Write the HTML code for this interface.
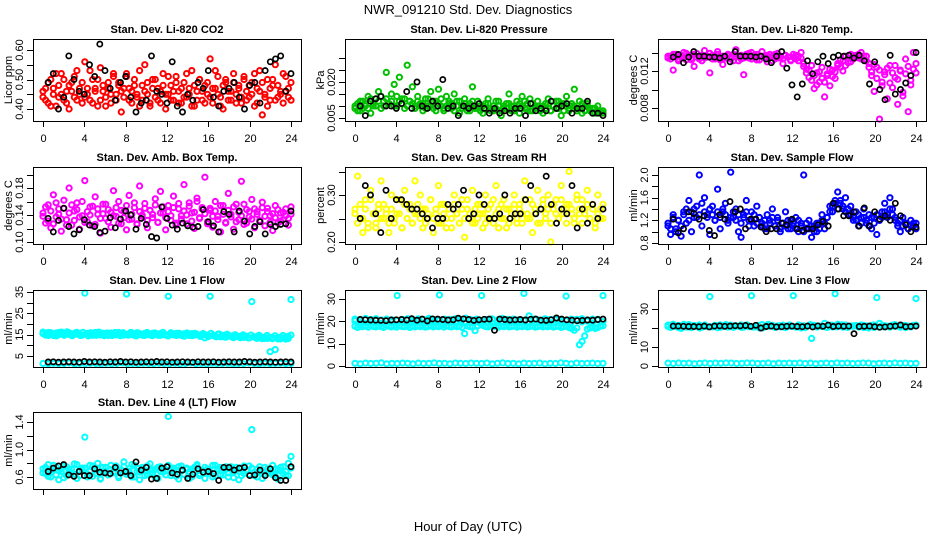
<!DOCTYPE html>
<html><head><meta charset="utf-8"><style>
html,body{margin:0;padding:0;background:#fff;}
svg{display:block;font-family:"Liberation Sans",sans-serif;}
</style></head><body>
<svg id="chart" width="936" height="540" viewBox="0 0 936 540" xmlns="http://www.w3.org/2000/svg">
<text x="468" y="14" text-anchor="middle" font-size="13">NWR_091210  Std. Dev. Diagnostics</text>
<text x="468" y="531" text-anchor="middle" font-size="13">Hour of Day (UTC)</text>
</svg>
<script>
const xTicks=[0,4,8,12,16,20,24];
const co2Red=[0.44,0.47,0.42,0.50,0.45,0.41,0.48,0.52,0.43,0.46,0.40,0.49,0.44,0.53,0.47,0.42,0.56,0.45,0.43,0.50,0.47,0.41,0.54,0.46,0.44,0.49,0.42,0.51,0.45,0.48,0.39,0.47,0.52,0.43,0.46,0.50,0.44,0.41,0.48,0.55,0.45,0.42,0.47,0.50,0.43,0.46,0.52,0.40,0.45,0.48,0.43,0.51,0.46,0.42,0.49,0.44,0.47,0.53,0.41,0.46,0.50,0.43,0.48,0.45,0.57,0.42,0.47,0.51,0.44,0.40,0.49,0.46,0.43,0.52,0.45,0.48,0.42,0.50,0.46,0.44,0.49,0.41,0.47,0.53,0.38,0.45,0.50,0.43,0.48,0.55,0.44,0.46,0.42,0.51,0.47,0.43];
const co2RedB=[0.46,0.43,0.49,0.41,0.47,0.52,0.44,0.45,0.50,0.42,0.48,0.46,0.51,0.43,0.45,0.49,0.44,0.47,0.53,0.42,0.46,0.50,0.43,0.48,0.41,0.47,0.45,0.52,0.43,0.49,0.46,0.44,0.51,0.47,0.42,0.48,0.45,0.53,0.43,0.46,0.49,0.41,0.50,0.44,0.47,0.42,0.48,0.45,0.51,0.43,0.46,0.49,0.42,0.47,0.44,0.52,0.45,0.41,0.48,0.43,0.50,0.46,0.42,0.49,0.44,0.47,0.53,0.45,0.41,0.48,0.50,0.43,0.46,0.49,0.42,0.47,0.44,0.51,0.43,0.48,0.45,0.52,0.42,0.46,0.49,0.44,0.41,0.47,0.50,0.43,0.48,0.45,0.52,0.46,0.44,0.49];
const co2Black=[0.49,0.52,0.40,0.44,0.58,0.50,0.46,0.45,0.55,0.51,0.62,0.53,0.47,0.43,0.49,0.51,0.44,0.39,0.42,0.43,0.58,0.46,0.45,0.42,0.56,0.41,0.39,0.45,0.43,0.49,0.47,0.53,0.44,0.41,0.46,0.47,0.49,0.44,0.40,0.48,0.49,0.42,0.53,0.56,0.57,0.58,0.46,0.52];
const presGreen=[0.010,0.008,0.012,0.009,0.011,0.014,0.007,0.010,0.013,0.016,0.009,0.012,0.024,0.011,0.015,0.019,0.010,0.022,0.013,0.009,0.027,0.012,0.018,0.010,0.014,0.011,0.008,0.013,0.010,0.016,0.009,0.012,0.017,0.010,0.008,0.014,0.011,0.009,0.015,0.012,0.007,0.010,0.013,0.008,0.011,0.018,0.009,0.012,0.010,0.007,0.011,0.013,0.009,0.008,0.012,0.010,0.006,0.009,0.011,0.015,0.008,0.010,0.012,0.007,0.014,0.009,0.011,0.013,0.008,0.010,0.012,0.009,0.007,0.011,0.013,0.008,0.010,0.009,0.012,0.006,0.011,0.014,0.008,0.010,0.017,0.009,0.012,0.007,0.010,0.011,0.008,0.009,0.007,0.010,0.008,0.007];
const presGreenB=[0.009,0.011,0.008,0.012,0.010,0.009,0.013,0.011,0.010,0.012,0.014,0.010,0.013,0.011,0.012,0.010,0.014,0.012,0.011,0.013,0.010,0.012,0.011,0.009,0.012,0.010,0.011,0.009,0.013,0.010,0.012,0.008,0.011,0.013,0.009,0.010,0.012,0.011,0.008,0.010,0.012,0.009,0.011,0.010,0.008,0.012,0.010,0.009,0.008,0.010,0.009,0.011,0.008,0.010,0.009,0.012,0.008,0.010,0.009,0.011,0.010,0.008,0.009,0.011,0.010,0.012,0.009,0.008,0.011,0.009,0.010,0.008,0.010,0.009,0.011,0.008,0.010,0.012,0.009,0.011,0.008,0.010,0.009,0.011,0.010,0.008,0.009,0.011,0.008,0.010,0.009,0.007,0.009,0.008,0.007,0.008];
const presBlack=[0.010,0.006,0.012,0.013,0.014,0.010,0.010,0.009,0.011,0.016,0.009,0.020,0.010,0.009,0.012,0.010,0.021,0.009,0.010,0.006,0.010,0.009,0.010,0.011,0.009,0.007,0.009,0.007,0.008,0.007,0.009,0.009,0.006,0.011,0.008,0.009,0.008,0.012,0.009,0.010,0.011,0.007,0.009,0.009,0.012,0.007,0.007,0.006];
const tempMag=[0.0134,0.0136,0.0121,0.0138,0.0133,0.0135,0.0140,0.0132,0.0137,0.0134,0.0125,0.0139,0.0136,0.0131,0.0142,0.0135,0.0118,0.0137,0.0133,0.0141,0.0136,0.0127,0.0134,0.0138,0.0135,0.0131,0.0143,0.0136,0.0133,0.0116,0.0138,0.0134,0.0140,0.0137,0.0132,0.0136,0.0141,0.0135,0.0130,0.0138,0.0136,0.0133,0.0139,0.0134,0.0128,0.0137,0.0135,0.0131,0.0138,0.0133,0.0136,0.0140,0.0128,0.0122,0.0113,0.0126,0.0101,0.0118,0.0108,0.0124,0.0092,0.0115,0.0104,0.0121,0.0112,0.0126,0.0132,0.0120,0.0136,0.0129,0.0138,0.0133,0.0137,0.0134,0.0140,0.0132,0.0136,0.0128,0.0115,0.0098,0.0124,0.0068,0.0108,0.0119,0.0090,0.0126,0.0102,0.0113,0.0084,0.0121,0.0097,0.0133,0.0076,0.0110,0.0140,0.0118];
const tempMagB=[0.0136,0.0133,0.0138,0.0135,0.0131,0.0137,0.0134,0.0139,0.0136,0.0132,0.0138,0.0135,0.0133,0.0137,0.0134,0.0136,0.0139,0.0133,0.0135,0.0138,0.0132,0.0136,0.0134,0.0137,0.0133,0.0138,0.0135,0.0131,0.0137,0.0134,0.0136,0.0139,0.0133,0.0135,0.0138,0.0132,0.0136,0.0134,0.0137,0.0135,0.0131,0.0138,0.0134,0.0136,0.0133,0.0137,0.0135,0.0132,0.0135,0.0137,0.0131,0.0134,0.0125,0.0118,0.0121,0.0110,0.0115,0.0105,0.0119,0.0112,0.0108,0.0117,0.0122,0.0114,0.0119,0.0128,0.0124,0.0131,0.0126,0.0134,0.0130,0.0137,0.0135,0.0138,0.0133,0.0136,0.0131,0.0124,0.0119,0.0127,0.0112,0.0121,0.0104,0.0116,0.0123,0.0107,0.0118,0.0126,0.0111,0.0120,0.0093,0.0117,0.0125,0.0105,0.0122,0.0128];
const tempBlack=[0.0135,0.0138,0.0129,0.0135,0.0141,0.0136,0.0136,0.0135,0.0135,0.0134,0.0136,0.0130,0.0141,0.0136,0.0136,0.0136,0.0135,0.0136,0.0133,0.0129,0.0136,0.0141,0.0123,0.0105,0.0092,0.0106,0.0131,0.0117,0.0130,0.0136,0.0128,0.0135,0.0137,0.0136,0.0137,0.0134,0.0137,0.0131,0.0106,0.0130,0.0100,0.0089,0.0137,0.0095,0.0100,0.0107,0.0115,0.0140];
const ambMag=[0.143,0.128,0.155,0.121,0.170,0.137,0.149,0.116,0.162,0.133,0.180,0.125,0.146,0.158,0.119,0.139,0.191,0.130,0.152,0.124,0.167,0.141,0.113,0.156,0.135,0.148,0.122,0.176,0.138,0.160,0.127,0.145,0.118,0.169,0.134,0.151,0.126,0.183,0.140,0.157,0.121,0.147,0.136,0.164,0.129,0.175,0.143,0.118,0.154,0.132,0.168,0.125,0.149,0.139,0.185,0.127,0.158,0.143,0.120,0.165,0.136,0.151,0.196,0.130,0.147,0.122,0.160,0.138,0.115,0.154,0.128,0.172,0.141,0.119,0.156,0.133,0.190,0.126,0.148,0.137,0.163,0.121,0.145,0.131,0.159,0.124,0.150,0.139,0.117,0.154,0.128,0.143,0.133,0.149,0.125,0.152];
const ambMagB=[0.138,0.152,0.131,0.146,0.127,0.158,0.141,0.134,0.150,0.125,0.143,0.155,0.132,0.148,0.137,0.160,0.129,0.145,0.140,0.153,0.126,0.149,0.135,0.142,0.156,0.130,0.144,0.139,0.151,0.128,0.147,0.136,0.154,0.133,0.141,0.158,0.127,0.145,0.138,0.150,0.132,0.147,0.141,0.155,0.129,0.143,0.152,0.136,0.145,0.139,0.151,0.128,0.157,0.134,0.146,0.140,0.153,0.131,0.144,0.160,0.135,0.149,0.142,0.127,0.150,0.138,0.146,0.133,0.154,0.141,0.129,0.147,0.137,0.152,0.130,0.144,0.139,0.156,0.128,0.145,0.134,0.149,0.141,0.132,0.151,0.138,0.145,0.129,0.142,0.136,0.148,0.131,0.144,0.139,0.135,0.141];
const ambBlack=[0.135,0.115,0.132,0.150,0.123,0.112,0.118,0.133,0.125,0.123,0.114,0.116,0.136,0.121,0.134,0.146,0.140,0.119,0.135,0.126,0.108,0.106,0.152,0.135,0.125,0.119,0.128,0.124,0.122,0.123,0.148,0.130,0.124,0.115,0.145,0.141,0.115,0.146,0.131,0.112,0.123,0.130,0.112,0.126,0.123,0.126,0.127,0.146];
const rhYellow=[0.27,0.34,0.25,0.22,0.29,0.24,0.31,0.26,0.23,0.28,0.33,0.25,0.27,0.22,0.30,0.24,0.26,0.29,0.23,0.31,0.25,0.28,0.24,0.33,0.26,0.30,0.23,0.27,0.25,0.29,0.22,0.26,0.32,0.24,0.28,0.25,0.27,0.23,0.30,0.26,0.24,0.29,0.21,0.27,0.25,0.31,0.24,0.28,0.26,0.23,0.30,0.25,0.28,0.24,0.32,0.27,0.25,0.29,0.23,0.27,0.26,0.30,0.24,0.28,0.26,0.33,0.25,0.29,0.22,0.27,0.31,0.24,0.28,0.26,0.30,0.20,0.27,0.29,0.25,0.32,0.26,0.28,0.35,0.27,0.24,0.30,0.26,0.29,0.27,0.31,0.25,0.28,0.23,0.30,0.27,0.25];
const rhYellowB=[0.26,0.24,0.28,0.25,0.27,0.23,0.29,0.26,0.24,0.27,0.25,0.28,0.26,0.24,0.27,0.25,0.29,0.26,0.23,0.28,0.25,0.27,0.24,0.26,0.28,0.25,0.27,0.24,0.26,0.29,0.25,0.27,0.24,0.28,0.26,0.23,0.27,0.25,0.28,0.26,0.24,0.27,0.25,0.29,0.26,0.24,0.27,0.25,0.28,0.26,0.24,0.27,0.25,0.29,0.26,0.23,0.28,0.25,0.27,0.24,0.26,0.28,0.25,0.27,0.24,0.29,0.26,0.25,0.28,0.26,0.24,0.27,0.29,0.25,0.27,0.24,0.28,0.26,0.25,0.29,0.27,0.24,0.28,0.26,0.25,0.29,0.27,0.24,0.26,0.28,0.25,0.27,0.24,0.26,0.25,0.28];
const rhBlack=[0.25,0.32,0.30,0.26,0.22,0.31,0.25,0.29,0.29,0.28,0.27,0.27,0.26,0.25,0.23,0.25,0.25,0.28,0.27,0.28,0.31,0.25,0.26,0.30,0.28,0.25,0.25,0.26,0.30,0.25,0.26,0.26,0.29,0.32,0.26,0.27,0.34,0.28,0.24,0.27,0.26,0.32,0.23,0.27,0.24,0.28,0.25,0.27];
const flowBlue=[1.10,0.95,1.30,1.05,1.20,0.92,1.35,1.15,1.55,1.00,1.40,1.25,2.00,1.10,1.60,1.30,0.95,1.45,1.20,1.75,1.05,1.35,1.50,1.15,2.05,1.25,1.40,1.00,0.90,1.30,1.55,1.20,1.35,1.10,1.45,1.25,1.15,1.05,1.30,1.20,1.40,1.10,1.25,1.00,1.15,1.35,1.05,1.20,1.10,1.25,1.00,1.15,2.00,1.05,1.20,0.90,1.10,1.00,1.15,1.30,1.05,1.25,1.45,1.35,1.55,1.70,1.50,1.40,1.60,1.30,1.45,1.20,1.35,1.10,1.25,1.40,1.15,1.30,1.05,1.25,0.95,1.20,1.35,1.50,1.30,1.60,1.40,1.20,1.10,1.00,1.25,1.15,1.05,1.20,1.10,1.15];
const flowBlueB=[1.15,1.05,1.25,1.00,1.20,1.10,1.30,1.40,1.20,1.35,1.25,1.45,1.30,1.50,1.35,1.25,1.40,1.30,1.20,1.35,1.25,1.40,1.30,1.20,1.25,1.35,1.20,1.30,1.15,1.25,1.35,1.10,1.20,1.30,1.15,1.25,1.10,1.20,1.05,1.15,1.25,1.10,1.20,1.05,1.15,1.10,1.20,1.05,1.15,1.05,1.20,1.10,1.00,1.15,1.05,1.10,1.00,1.15,1.05,1.20,1.15,1.25,1.35,1.45,1.50,1.40,1.55,1.45,1.35,1.40,1.30,1.25,1.20,1.30,1.15,1.25,1.20,1.10,1.25,1.15,1.30,1.20,1.25,1.35,1.25,1.40,1.30,1.25,1.15,1.20,1.10,1.15,1.05,1.10,1.15,1.05];
const flowBlack=[1.22,0.98,1.05,1.35,1.32,1.22,1.28,1.02,0.93,1.30,1.22,1.53,1.35,1.40,1.05,1.22,1.22,1.08,1.00,1.05,1.05,1.15,1.12,1.22,1.05,1.02,1.05,1.05,1.12,1.18,1.10,1.50,1.40,1.28,1.28,1.35,1.10,1.42,1.10,1.35,1.22,1.28,1.20,1.50,1.28,1.12,1.00,1.08];
const line1Cyan=[15.5,14.8,16.0,15.2,14.6,15.8,15.0,16.2,14.9,15.4,15.9,14.7,15.3,16.1,15.0,14.8,34.5,15.6,15.1,14.7,16.0,15.3,14.9,15.7,15.2,14.6,15.8,15.1,14.9,16.0,15.4,14.8,34.0,15.5,15.0,14.7,15.9,15.2,14.8,15.6,15.1,14.9,15.7,15.3,14.7,15.5,15.0,14.8,33.0,15.3,14.9,15.6,15.0,14.7,15.4,15.1,14.6,15.5,14.9,15.2,14.5,15.0,13.5,14.8,33.0,14.6,14.2,15.2,14.0,14.7,13.8,14.4,14.1,13.6,14.5,13.9,14.2,13.7,14.3,13.5,30.5,14.0,13.3,13.9,13.1,13.7,13.2,7.0,13.6,8.0,13.0,13.8,13.4,12.9,14.2,31.5];
const line1CyanB=[16.2,15.3,14.6,15.9,15.1,14.4,16.0,15.4,14.7,16.3,15.0,14.5,15.8,15.2,14.6,16.1,15.3,14.4,15.9,15.1,14.7,16.2,15.0,14.5,15.8,15.4,14.6,16.0,15.2,14.5,15.9,15.1,14.8,16.1,15.3,14.4,15.7,15.0,14.6,16.0,15.2,14.5,15.8,15.3,14.7,16.1,15.0,14.4,15.9,15.2,14.6,15.7,15.0,14.3,15.8,15.1,14.5,15.6,14.9,14.2,15.5,14.8,14.1,15.6,14.7,14.0,15.3,14.6,13.9,15.2,14.5,13.8,15.0,14.3,13.6,14.9,14.2,13.5,14.8,14.0,13.4,14.7,13.9,13.2,14.6,13.8,13.1,14.5,13.7,13.0,14.6,13.9,13.2,14.8];
const line1Low=[1.5,1.3,1.6,1.4,1.5,1.7,1.3,1.5,1.4,1.6,1.5,1.3,1.6,1.4,1.5,1.7,1.4,1.5,1.3,1.6,1.5,1.4,1.6,1.5,1.4,1.6,1.3,1.5,1.7,1.4,1.5,1.3,1.6,1.4,1.5,1.6,1.3,1.5,1.4,1.7,1.5,1.3,1.6,1.4,1.5,1.6,1.4,1.5];
const line1Black=[2.2,2.3,2.1,2.2,2.3,2.2,2.1,2.4,2.2,2.3,2.2,2.1,2.3,2.2,2.4,2.2,2.3,2.1,2.2,2.3,2.2,2.4,2.2,2.3,2.1,2.2,2.3,2.2,2.1,2.3,2.2,2.2,2.3,2.1,2.2,2.3,2.2,2.2,2.4,2.3,2.1,2.2,2.3,2.2,2.1,2.2,2.3,2.2];
const line2CyanA=[21.0,20.5,21.3,20.8,21.2,20.6,21.0,20.7,31.5,20.9,21.2,20.6,21.1,20.8,21.3,20.7,31.8,21.0,20.6,21.2,20.9,21.4,20.7,21.0,31.5,20.8,21.1,20.6,21.3,20.9,21.0,20.7,32.5,22.5,21.0,20.6,21.2,20.8,21.1,20.7,31.3,21.0,20.8,21.2,20.6,21.0,20.9,31.5];
const line2CyanB=[17.8,17.3,18.2,17.6,17.9,17.4,18.1,17.7,17.5,18.0,17.6,17.3,18.2,17.8,17.5,17.9,17.4,18.1,17.7,17.6,18.0,17.3,17.8,17.5,17.9,17.6,18.1,17.4,17.7,18.0,17.5,17.8,17.6,18.2,17.4,17.9,17.7,17.5,18.0,17.6,17.8,17.3,14.5,17.9,17.6,17.4,15.8,18.0,19.0,18.2,17.7,17.5,18.0,17.6,17.9,17.4,17.8,17.6,18.1,17.5,17.7,17.9,17.4,17.8,17.6,18.0,17.5,17.7,17.9,17.4,17.6,18.0,17.5,17.8,17.6,17.9,17.4,17.7,17.8,17.3,17.6,17.9,17.2,16.8,16.0,17.0,9.5,11.0,13.5,16.5,17.0,17.5,16.8,17.2,17.8,18.0];
const line2CyanC=[20.2,19.4,20.8,19.6,20.4,19.1,20.7,19.8,20.3,19.5,20.9,19.7,20.1,19.3,20.6,19.9,20.4,19.2,20.8,19.6,20.2,19.4,20.7,19.8,20.3,19.5,20.9,19.7,20.1,19.3,20.6,19.9,20.4,19.2,20.8,19.6,20.2,19.4,20.7,19.8,20.3,19.5,20.9,19.7,20.1,19.3,20.6,19.9];
const line2Low=[1.2,1.0,1.3,1.1,1.2,1.4,1.0,1.2,1.1,1.3,1.2,1.0,1.3,1.1,1.2,1.4,1.1,1.2,1.0,1.3,1.2,1.1,1.3,1.2,1.1,1.3,1.0,1.2,1.4,1.1,1.2,1.0,1.3,1.1,1.2,1.3,1.0,1.2,1.1,1.4,1.2,1.0,1.3,1.1,1.2,1.3,1.1,1.2];
const line2Black=[20.8,20.7,20.6,20.5,20.4,20.3,20.6,20.7,20.8,20.6,21.2,20.5,21.0,20.2,21.1,21.0,20.8,20.6,20.7,21.4,21.1,20.8,20.4,20.7,20.9,21.0,16.0,21.0,20.8,20.6,20.7,20.8,20.6,20.9,21.0,20.5,20.4,20.7,21.5,21.0,20.7,20.5,20.3,20.4,20.6,20.5,20.8,21.0];
const line3Cyan=[21.5,20.3,22.0,20.8,21.4,19.8,21.1,20.5,21.8,20.2,21.3,20.9,21.6,20.4,21.0,20.7,36.5,20.6,21.4,20.1,21.7,20.8,21.2,20.5,21.5,20.3,21.0,20.9,21.6,20.4,21.2,20.7,37.0,20.5,21.3,20.0,21.8,20.6,21.1,20.9,21.4,20.3,21.0,20.6,21.5,20.2,21.2,20.8,37.0,20.4,21.6,20.0,21.1,20.7,21.3,14.5,21.4,20.5,21.0,20.8,22.5,20.3,21.2,20.6,38.0,22.0,21.1,20.4,21.5,20.6,21.0,20.9,21.3,20.5,21.6,20.2,21.1,20.7,21.4,20.3,36.0,22.5,21.2,20.6,21.0,20.4,21.5,20.8,21.1,20.5,21.3,20.2,21.0,20.6,21.4,35.5];
const line3CyanB=[20.8,21.5,20.2,21.9,20.5,21.2,20.0,21.6,20.7,21.3,20.4,21.8,20.9,21.1,20.3,21.7,20.6,21.4,20.1,21.9,20.8,21.2,20.5,21.6,20.7,21.3,20.2,21.8,20.9,21.0,20.4,21.5,20.6,21.7,20.3,21.1,20.8,21.4,20.0,21.6,20.5,21.2,20.9,21.8,20.4,21.3,20.7,21.5];
const line3Low=[1.5,1.3,1.6,1.4,1.5,1.2,1.4,1.6,1.3,1.5,1.4,1.6,1.5,1.3,1.4,1.6,1.5,1.3,1.4,1.6,1.2,1.5,1.4,1.5,1.4,1.6,1.3,1.5,1.2,1.4,1.5,1.3,1.6,1.4,1.5,1.3,1.4,1.6,1.5,1.2,1.4,1.5,1.3,1.6,1.4,1.5,1.3,1.4];
const line3Black=[21.0,21.0,20.9,20.8,20.8,20.7,21.0,20.6,21.0,21.1,20.9,21.0,21.2,21.1,21.3,20.9,21.4,20.0,20.8,21.0,20.6,20.7,20.9,21.0,20.8,20.7,21.0,20.6,21.1,20.9,21.5,20.8,21.0,20.9,21.0,17.0,20.8,20.9,21.0,20.7,20.4,20.6,20.9,21.0,21.6,20.7,20.8,21.0];
const line4Cyan=[0.72,0.65,0.78,0.60,0.70,0.74,0.56,0.68,0.76,0.62,0.71,0.66,0.79,0.58,0.69,0.73,1.18,0.64,0.77,0.61,0.70,0.80,0.57,0.67,0.74,0.63,0.71,0.68,0.76,0.59,0.70,0.82,0.65,0.72,0.60,0.77,0.68,0.56,0.74,0.70,0.63,0.79,0.66,0.71,0.58,0.75,0.67,0.69,1.48,0.62,0.73,0.70,0.57,0.76,0.64,0.71,0.68,0.60,0.74,0.78,0.65,0.70,0.58,0.72,0.66,0.77,0.61,0.69,0.74,0.63,0.71,0.60,0.75,0.67,0.70,0.56,0.73,0.65,0.69,0.76,1.29,0.62,0.71,0.68,0.58,0.74,0.66,0.70,0.63,0.72,0.57,0.69,0.75,0.62,0.80,0.90];
const line4CyanB=[0.66,0.74,0.61,0.70,0.77,0.63,0.69,0.72,0.59,0.75,0.67,0.71,0.64,0.78,0.62,0.70,0.73,0.60,0.68,0.76,0.65,0.71,0.58,0.74,0.69,0.63,0.77,0.66,0.72,0.61,0.70,0.75,0.64,0.68,0.78,0.60,0.73,0.67,0.71,0.62,0.76,0.65,0.70,0.59,0.74,0.68,0.72,0.63,0.77,0.66,0.70,0.61,0.75,0.69,0.64,0.73,0.58,0.71,0.67,0.76,0.62,0.70,0.74,0.65,0.68,0.60,0.77,0.72,0.63,0.69,0.75,0.66,0.71,0.59,0.74,0.68,0.62,0.76,0.70,0.64,0.73,0.67,0.60,0.75,0.69,0.63,0.72,0.66,0.77,0.61,0.70,0.74,0.65,0.68,0.62,0.73];
const line4Black=[0.68,0.73,0.76,0.78,0.63,0.61,0.68,0.62,0.62,0.72,0.67,0.66,0.65,0.74,0.66,0.68,0.62,0.82,0.70,0.74,0.57,0.58,0.73,0.75,0.66,0.64,0.70,0.58,0.64,0.72,0.67,0.68,0.65,0.55,0.74,0.74,0.70,0.73,0.74,0.62,0.63,0.70,0.62,0.72,0.59,0.55,0.55,0.75];

const panels=[
 {name:'co2',title:'Stan. Dev. Li-820 CO2',ylab:'Licor ppm',col:0,row:0,ref:[0.40,109,0.60,50],ticks:[0.40,0.45,0.50,0.55,0.60],labels:['0.40','0.50','0.60'],series:[[co2Red,'#ff0000'],[co2RedB,'#ff0000'],[co2Black,'#000']]},
 {name:'pressure',title:'Stan. Dev. Li-820 Pressure',ylab:'kPa',col:1,row:0,ref:[0.005,118,0.020,82],ticks:[0.005,0.010,0.015,0.020,0.025,0.030],labels:['0.005','0.020'],series:[[presGreen,'#00c000'],[presGreenB,'#00c000'],[presBlack,'#000']]},
 {name:'li820-temp',title:'Stan. Dev. Li-820 Temp.',ylab:'degrees C',col:2,row:0,ref:[0.008,108,0.012,71],ticks:[0.008,0.010,0.012,0.014],labels:['0.008','0.012'],series:[[tempMag,'#ff00ff'],[tempMagB,'#ff00ff'],[tempBlack,'#000']]},
 {name:'amb-box-temp',title:'Stan. Dev. Amb. Box Temp.',ylab:'degrees C',col:0,row:1,ref:[0.10,242,0.18,188],ticks:[0.10,0.12,0.14,0.16,0.18,0.20],labels:['0.10','0.14','0.18'],series:[[ambMag,'#ff00ff'],[ambMagB,'#ff00ff'],[ambBlack,'#000']]},
 {name:'gas-stream-rh',title:'Stan. Dev. Gas Stream RH',ylab:'percent',col:1,row:1,ref:[0.20,242,0.30,195],ticks:[0.20,0.25,0.30,0.35],labels:['0.20','0.30'],series:[[rhYellow,'#ffff00'],[rhYellowB,'#ffff00'],[rhBlack,'#000']]},
 {name:'sample-flow',title:'Stan. Dev. Sample Flow',ylab:'ml/min',col:2,row:1,ref:[0.8,243,2.0,175],ticks:[0.8,1.0,1.2,1.4,1.6,1.8,2.0],labels:['0.8','1.2','1.6','2.0'],series:[[flowBlue,'#0000ff'],[flowBlueB,'#0000ff'],[flowBlack,'#000']]},
 {name:'line1-flow',title:'Stan. Dev. Line 1 Flow',ylab:'ml/min',col:0,row:2,ref:[5,356,35,292],ticks:[5,10,15,20,25,30,35],labels:['5','15','25','35'],series:[[line1Cyan,'#00ffff'],[line1CyanB,'#00ffff'],[line1Low,'#00ffff'],[line1Black,'#000']]},
 {name:'line2-flow',title:'Stan. Dev. Line 2 Flow',ylab:'ml/min',col:1,row:2,ref:[0,366,30,299],ticks:[0,10,20,30],labels:['0','10','20','30'],series:[[line2CyanB,'#00ffff'],[line2CyanC,'#00ffff'],[line2CyanA,'#00ffff'],[line2Low,'#00ffff'],[line2Black,'#000']]},
 {name:'line3-flow',title:'Stan. Dev. Line 3 Flow',ylab:'ml/min',col:2,row:2,ref:[0,366,30,309],ticks:[0,10,20,30],labels:['0','10','30'],series:[[line3Cyan,'#00ffff'],[line3CyanB,'#00ffff'],[line3Low,'#00ffff'],[line3Black,'#000']]},
 {name:'line4-flow',title:'Stan. Dev. Line 4 (LT) Flow',ylab:'ml/min',col:0,row:3,ref:[0.6,477,1.4,422],ticks:[0.6,0.8,1.0,1.2,1.4],labels:['0.6','1.0','1.4'],series:[[line4Cyan,'#00ffff'],[line4CyanB,'#00ffff'],[line4Black,'#000']]}
];
const colLeft=[33,345,658], rowTop=[39,167,290,412], rowBot=[121,244,367,489], boxW=268;
const svg=document.getElementById('chart');
const NS='http://www.w3.org/2000/svg';
function mk(tag,attrs,parent){const e=document.createElementNS(NS,tag);for(const k in attrs)e.setAttribute(k,attrs[k]);(parent||svg).appendChild(e);return e;}
panels.forEach(p=>{
  const L=colLeft[p.col],T=rowTop[p.row],B=rowBot[p.row],R=L+boxW;
  const xs=h=>L+10+h*(boxW-20)/24;
  const ys=v=>p.ref[1]+(v-p.ref[0])*(p.ref[3]-p.ref[1])/(p.ref[2]-p.ref[0]);
  const g=mk('g',{});
  
  
  const t=mk('text',{x:L+boxW/2,y:T-6,'text-anchor':'middle','font-size':'11','font-weight':'bold'},g);
  t.textContent=p.title;
  
  
  const yl=mk('text',{transform:`translate(${L-21},${(T+B)/2}) rotate(-90)`,'text-anchor':'middle','font-size':'11'},g);
  yl.textContent=p.ylab;
  
  
  p.series.forEach((s,si)=>{
    const vals=s[0],n=vals.length,black=s[1]==='#000';
    vals.forEach((v,i)=>{
      const h=black?0.5+i*23.5/(n-1):i*24/(n-1);
      const c=mk('circle',{cx:xs(h).toFixed(1),cy:ys(v).toFixed(1),r:black?2.6:2.6,fill:'none',stroke:s[1],'stroke-width':black?1.7:2},g);
      
      
    });
  });
  const box=mk('rect',{x:L+0.5,y:T+0.5,width:boxW,height:B-T,fill:'none',stroke:'#000','stroke-width':1},g);
  
  
  xTicks.forEach(h=>{
    const x=Math.round(xs(h))+0.5;
    mk('line',{x1:x,x2:x,y1:B,y2:B+6,stroke:'#000'},g);
    if(p.row<3){const tl=mk('text',{x:x,y:B+21,'text-anchor':'middle','font-size':'11'},g);
    tl.textContent=h;
    
    }
  });
  mk('line',{x1:Math.round(xs(0))+0.5,x2:Math.round(xs(24))+0.5,y1:B+0.5,y2:B+0.5,stroke:'#000'},g);
  p.ticks.forEach(v=>{
    const y=Math.round(ys(v))+0.5;
    mk('line',{x1:L-6,x2:L,y1:y,y2:y,stroke:'#000'},g);
  });
  p.labels.forEach(lb=>{
    const y=ys(parseFloat(lb));
    const tl=mk('text',{transform:`translate(${L-10},${y}) rotate(-90)`,'text-anchor':'middle','font-size':'11'},g);
    tl.textContent=lb;
    
    
  });
  mk('line',{x1:L+0.5,x2:L+0.5,y1:Math.round(ys(p.ticks[0])),y2:Math.round(ys(p.ticks[p.ticks.length-1])),stroke:'#000'},g);
});
</script>
</body></html>
